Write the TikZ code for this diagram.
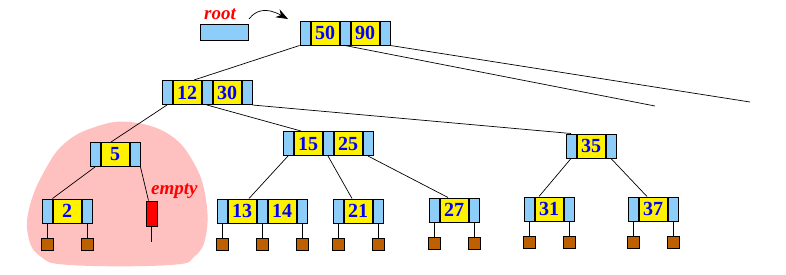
\documentclass[tikz,border=0pt]{standalone}
\usepackage{fontspec}
\setmainfont{Liberation Serif}
\usepackage{tikz}
\usetikzlibrary{positioning, arrows.meta}

\definecolor{ptrblue}{RGB}{140,205,250}
\definecolor{leafbrown}{RGB}{190,96,0}
\definecolor{blobpink}{RGB}{255,192,192}

\begin{document}
\begin{tikzpicture}[x=1pt, y=-1pt, node distance=0pt]
  % Define styles
  \tikzstyle{ptr} = [rectangle, draw, line width=1pt, fill=ptrblue, minimum width=10, minimum height=24, inner sep=0]
  \tikzstyle{key} = [rectangle, draw, line width=1pt, fill=yellow, minimum width=28, minimum height=24, inner sep=0, text=blue, font=\fontsize{20}{20}\selectfont\bfseries]
  \tikzstyle{leaf} = [rectangle, draw, line width=1pt, fill=leafbrown, minimum width=12, minimum height=12, inner sep=0]
  \tikzstyle{edge} = [draw, line width=0.7pt]
  \tikzstyle{note} = [text=red, inner sep=0, font=\fontsize{19}{19}\selectfont\bfseries\itshape]

  \useasboundingbox (0,0) rectangle (786,274);

  % Highlighted subtree
  \fill[blobpink] plot[smooth cycle, tension=0.7] coordinates {(130,122) (170,135) (195,165) (206,200) (206,235) (195,256) (170,265) (70,265) (40,256) (28,235) (30,205) (45,170) (65,143) (95,127)};

  % Root pointer
  \node[ptr, minimum width=48, minimum height=16] (rootptr) at (224,32) {};
  \node[note, anchor=base west] (roottext) at (204,19) {root};
  \coordinate (arrowstart) at (249,19);
  \coordinate (arrowtip) at (288,19);
  \draw[line width=0.7pt, -{Stealth[length=12pt, width=9pt]}] (arrowstart) .. controls (256,10) and (266,7) .. (arrowtip);

  % Root: 50 | 90
  \node[ptr] (p50a) at (305,33) {};
  \node[key, right=of p50a] (k50) {50};
  \node[ptr, right=of k50] (p50b) {};
  \node[key, right=of p50b] (k90) {90};
  \node[ptr, right=of k90] (p50c) {};

  % Level 1: 12 | 30
  \node[ptr] (p12a) at (167,92.5) {};
  \node[key, right=of p12a] (k12) {12};
  \node[ptr, right=of k12] (p12b) {};
  \node[key, right=of p12b] (k30) {30};
  \node[ptr, right=of k30] (p12c) {};

  % Level 2: 5
  \node[ptr] (p5a) at (95,154.5) {};
  \node[key, right=of p5a] (k5) {5};
  \node[ptr, right=of k5] (p5b) {};

  % Level 2: 15 | 25
  \node[ptr] (p15a) at (288,143.5) {};
  \node[key, right=of p15a] (k15) {15};
  \node[ptr, right=of k15] (p15b) {};
  \node[key, right=of p15b] (k25) {25};
  \node[ptr, right=of k25] (p15c) {};

  % Level 2: 35
  \node[ptr] (p35a) at (571,146) {};
  \node[key, right=of p35a] (k35) {35};
  \node[ptr, right=of k35] (p35b) {};

  % Level 3: 2
  \node[ptr] (p2a) at (47,211) {};
  \node[key, right=of p2a] (k2) {2};
  \node[ptr, right=of k2] (p2b) {};

  % Empty child
  \node[rectangle, draw, line width=1pt, fill=red, minimum width=11, minimum height=25, inner sep=0] (emptybox) at (151.5,213.5) {};
  \node[note, anchor=base west] (emptytext) at (151,194) {empty};
  \coordinate (emptyend) at (151.5,242);

  % Level 3: 13 | 14
  \node[ptr] (p13a) at (222,211) {};
  \node[key, right=of p13a] (k13) {13};
  \node[ptr, right=of k13] (p13b) {};
  \node[key, right=of p13b] (k14) {14};
  \node[ptr, right=of k14] (p13c) {};

  % Level 3: 21
  \node[ptr] (p21a) at (338,211) {};
  \node[key, right=of p21a] (k21) {21};
  \node[ptr, right=of k21] (p21b) {};

  % Level 3: 27
  \node[ptr] (p27a) at (434,210) {};
  \node[key, right=of p27a] (k27) {27};
  \node[ptr, right=of k27] (p27b) {};

  % Level 3: 31
  \node[ptr] (p31a) at (529,209) {};
  \node[key, right=of p31a] (k31) {31};
  \node[ptr, right=of k31] (p31b) {};

  % Level 3: 37
  \node[ptr] (p37a) at (633,209) {};
  \node[key, right=of p37a] (k37) {37};
  \node[ptr, right=of k37] (p37b) {};

  % Leaves
  \node[leaf, below=14pt of p2a] (l2a) {};
  \node[leaf, below=14pt of p2b] (l2b) {};
  \node[leaf, below=14pt of p13a] (l13a) {};
  \node[leaf, below=14pt of p13b] (l13b) {};
  \node[leaf, below=14pt of p13c] (l13c) {};
  \node[leaf, below=14pt of p21a] (l21a) {};
  \node[leaf, below=14pt of p21b] (l21b) {};
  \node[leaf, below=14pt of p27a] (l27a) {};
  \node[leaf, below=14pt of p27b] (l27b) {};
  \node[leaf, below=14pt of p31a] (l31a) {};
  \node[leaf, below=14pt of p31b] (l31b) {};
  \node[leaf, below=14pt of p37a] (l37a) {};
  \node[leaf, below=14pt of p37b] (l37b) {};

  % Unexpanded subtrees of the root
  \coordinate (cut1) at (655,106);
  \coordinate (cut2) at (750,102);

  % Connections - root
  \draw[edge] (p50a.south west) -- ([xshift=7pt]k12.north);
  \draw[edge] (p50b.south) -- (cut1);
  \draw[edge] (p50c.south east) -- (cut2);

  % Connections - level 1
  \draw[edge] (p12a.south) -- ([xshift=-4pt]k5.north);
  \draw[edge] (p12b.south) -- ([xshift=-7pt]k15.north);
  \draw[edge] (p12c.south east) -- (p35a.north);

  % Connections - level 2
  \draw[edge] (p5a.south) -- (k2.north west);
  \draw[edge] (p5b.south east) -- ([xshift=-3pt]emptybox.north);
  \draw[edge] (emptybox) -- (emptyend);
  \draw[edge] (p15a.south) -- ([xshift=7pt]k13.north);
  \draw[edge] (p15b.south) -- ([xshift=-6pt]k21.north);
  \draw[edge] (p15c.south) -- ([xshift=-6pt]k27.north);
  \draw[edge] (p35a.south) -- ([xshift=-10pt]k31.north);
  \draw[edge] (p35b.south) -- ([xshift=-6pt]k37.north);

  % Connections - leaves
  \draw[edge] (p2a) -- (l2a);
  \draw[edge] (p2b) -- (l2b);
  \draw[edge] (p13a) -- (l13a);
  \draw[edge] (p13b) -- (l13b);
  \draw[edge] (p13c) -- (l13c);
  \draw[edge] (p21a) -- (l21a);
  \draw[edge] (p21b) -- (l21b);
  \draw[edge] (p27a) -- (l27a);
  \draw[edge] (p27b) -- (l27b);
  \draw[edge] (p31a) -- (l31a);
  \draw[edge] (p31b) -- (l31b);
  \draw[edge] (p37a) -- (l37a);
  \draw[edge] (p37b) -- (l37b);

\end{tikzpicture}
\end{document}
